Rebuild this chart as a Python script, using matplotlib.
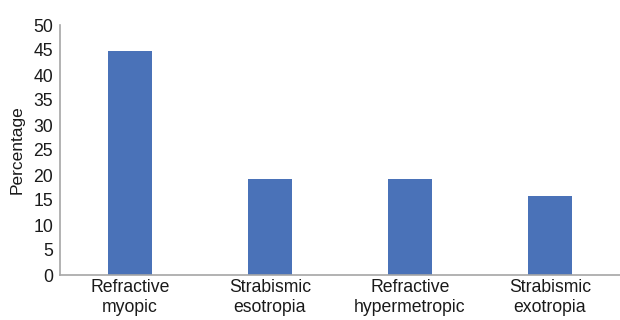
import matplotlib.pyplot as plt

categories = ["Refractive\nmyopic", "Strabismic\nesotropia", "Refractive\nhypermetropic", "Strabismic\nexotropia"]
percentages = [44.8, 19.2, 19.2, 15.8]
y_ticks = [0, 5, 10, 15, 20, 25, 30, 35, 40, 45, 50]

plt.rcParams['font.family'] = ['Liberation Sans', 'DejaVu Sans']

fig = plt.figure(figsize=(6.2, 3.2), dpi=100)
ax = fig.add_axes([60 / 620, 45 / 320, 560 / 620, 250 / 320])

x = range(len(categories))
ax.bar(x, percentages, width=0.32, color="#4A72B8")

ax.set_xlim(-0.5, len(categories) - 0.5)
ax.set_ylim(0, 50)
ax.set_yticks(y_ticks)
ax.set_xticks(list(x))
ax.set_xticklabels(categories, fontsize=12.7, color="#1a1a1a", linespacing=1.25)
ax.tick_params(axis="y", labelsize=12.7, length=0, pad=5, labelcolor="#1a1a1a")
ax.tick_params(axis="x", length=0, pad=3)
ax.set_ylabel("Percentage", fontsize=12.5, color="#1a1a1a", labelpad=6)

for side in ["top", "right"]:
    ax.spines[side].set_visible(False)
for side in ["left", "bottom"]:
    ax.spines[side].set_color("#A6A6A6")
    ax.spines[side].set_linewidth(1.2)

fig.savefig("out.png", dpi=100)
